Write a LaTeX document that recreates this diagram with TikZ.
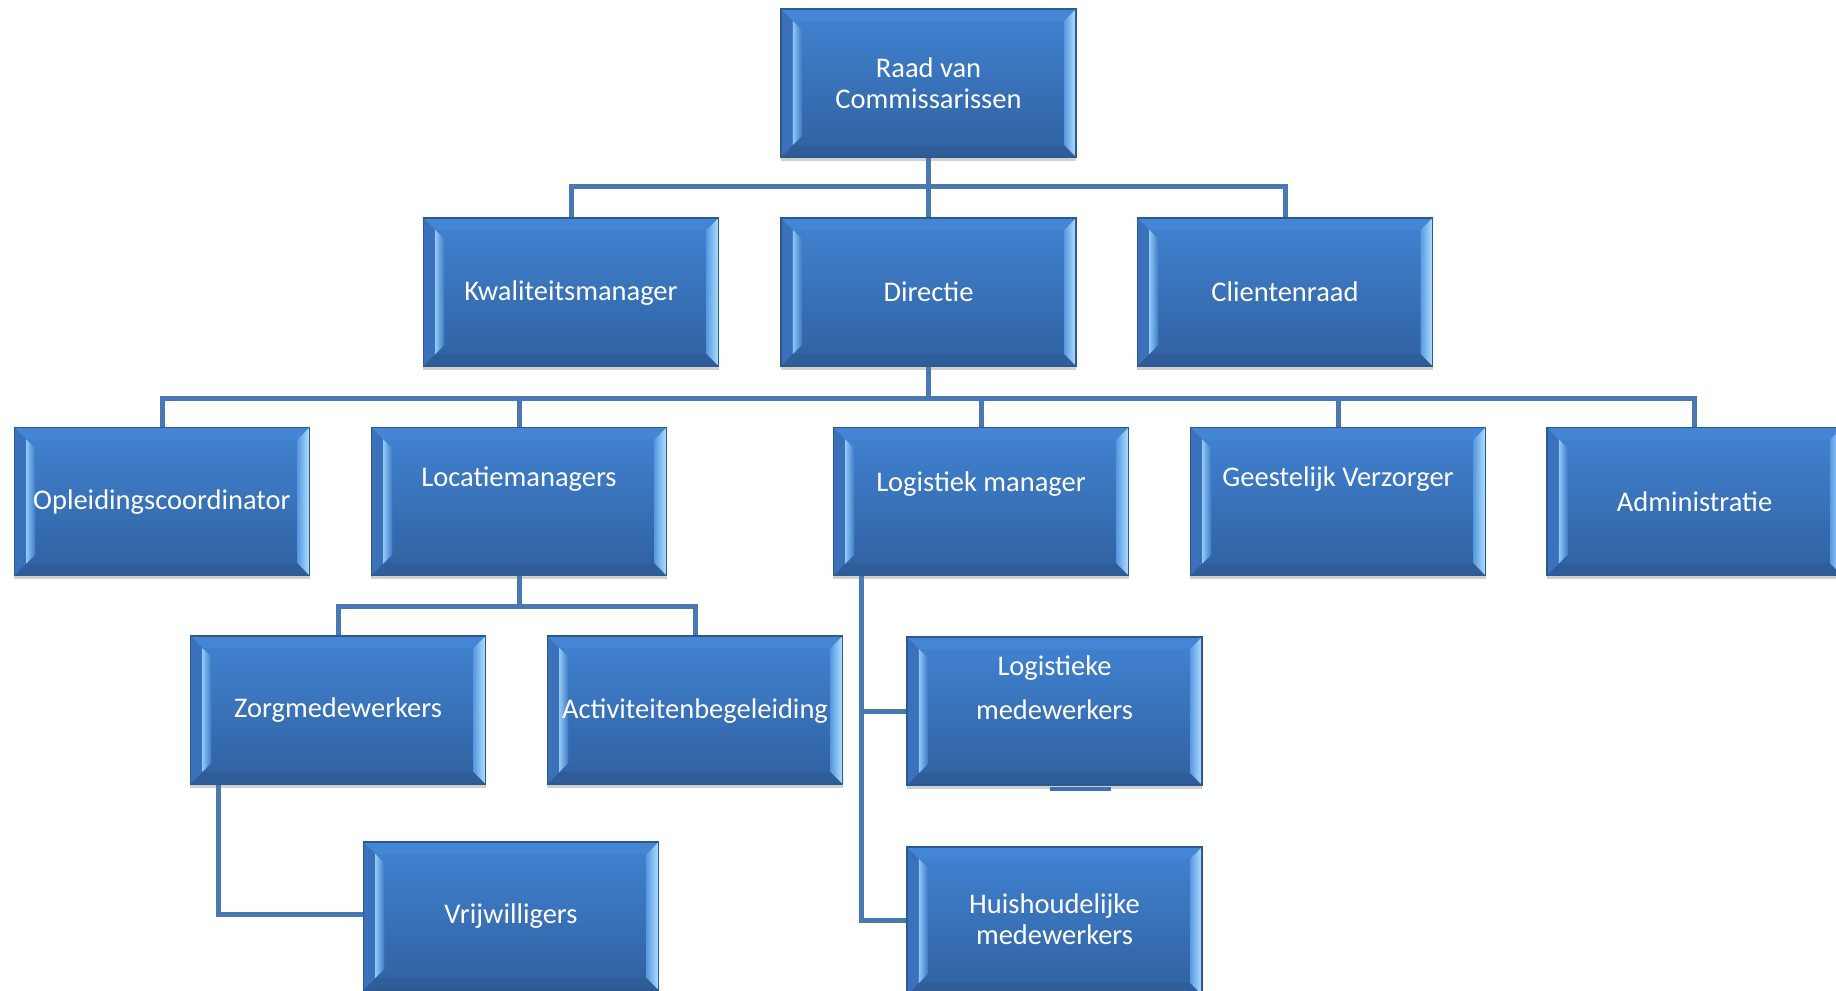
\documentclass[tikz,border=0pt]{standalone}
\usepackage{fontspec}
\setmainfont{Carlito}
\usetikzlibrary{shadows}
\definecolor{facetop}{HTML}{4183D3}
\definecolor{facebot}{HTML}{30619F}
\definecolor{boxedge}{HTML}{2C5A8F}
\definecolor{bevLa}{HTML}{3A71BA}
\definecolor{bevLb}{HTML}{8EC7F7}
\definecolor{bevRa}{HTML}{5A9AE2}
\definecolor{bevRb}{HTML}{B2E2FF}
\definecolor{bevT}{HTML}{4485D5}
\definecolor{bevB}{HTML}{2E5D9A}
\definecolor{linecol}{HTML}{4A78B2}
\def\bv{0.12cm}
\begin{document}
\begin{tikzpicture}[x=0.01cm, y=-0.01cm,
  box/.style={rectangle, minimum width=2.95cm, minimum height=1.48cm, inner sep=0pt,
    draw=boxedge, line width=0.5pt, top color=facetop, bottom color=facebot,
    drop shadow={shadow xshift=0pt, shadow yshift=-0.035cm, opacity=0.18, fill=black},
    path picture={
      \fill[bevT] (path picture bounding box.north west) -- (path picture bounding box.north east)
        -- ([shift={(-\bv,-\bv)}]path picture bounding box.north east)
        -- ([shift={(\bv,-\bv)}]path picture bounding box.north west) -- cycle;
      \fill[bevB] (path picture bounding box.south west) -- (path picture bounding box.south east)
        -- ([shift={(-\bv,\bv)}]path picture bounding box.south east)
        -- ([shift={(\bv,\bv)}]path picture bounding box.south west) -- cycle;
      \fill[bevLa] (path picture bounding box.south west)
        -- (path picture bounding box.north west)
        -- ([shift={(\bv,-\bv)}]path picture bounding box.north west)
        -- ([shift={(\bv,\bv)}]path picture bounding box.south west) -- cycle;
      \shade[left color=bevLb, right color=facetop!70!facebot]
        ([shift={(\bv,-\bv)}]path picture bounding box.north west)
        -- ([shift={(0.21cm,-0.21cm)}]path picture bounding box.north west)
        -- ([shift={(0.21cm,0.21cm)}]path picture bounding box.south west)
        -- ([shift={(\bv,\bv)}]path picture bounding box.south west) -- cycle;
      \shade[left color=bevRa, right color=bevRb] (path picture bounding box.south east)
        -- (path picture bounding box.north east)
        -- ([shift={(-\bv,-\bv)}]path picture bounding box.north east)
        -- ([shift={(-\bv,\bv)}]path picture bounding box.south east) -- cycle;
    }},
  txt/.style={text=white, font=\fontsize{8.1}{8.7}\selectfont, align=center, inner sep=0pt},
  conn/.style={draw=linecol, line width=0.05cm}]
\clip (0,0) rectangle (1836,991);
\fill[white] (0,0) rectangle (1836,991);
% boxes
\node[box] (raad) at (928.5,83) {};
\node[box] (kwal) at (571,292) {};
\node[box] (dir) at (928.5,292) {};
\node[box] (client) at (1285,292) {};
\node[box] (opl) at (162,501.5) {};
\node[box] (loc) at (519,501.5) {};
\node[box] (logm) at (981,501.5) {};
\node[box] (geest) at (1338,501.5) {};
\node[box] (admin) at (1694.5,501.5) {};
\node[box] (zorg) at (338,710) {};
\node[box] (act) at (695,710) {};
\node[box] (logmw) at (1054.5,711) {};
\node[box] (vrij) at (511,916) {};
\node[box] (huis) at (1054.5,921) {};
% texts
\node[txt] (raadT) at (raad.center) {Raad van\\Commissarissen};
\node[txt] (kwalT) at ([yshift=-0.01cm]kwal.center) {Kwaliteitsmanager};
\node[txt] (dirT) at (dir.center) {Directie};
\node[txt] (clientT) at (client.center) {Clientenraad};
\node[txt] (oplT) at ([yshift=-0.01cm]opl.center) {Opleidingscoordinator};
\node[txt] (locT) at ([yshift=0.22cm]loc.center) {Locatiemanagers};
\node[txt] (logmT) at ([yshift=0.17cm]logm.center) {Logistiek manager};
\node[txt] (geestT) at ([yshift=0.22cm]geest.center) {Geestelijk Verzorger};
\node[txt] (adminT) at (admin.center) {Administratie};
\node[txt] (zorgT) at (zorg.center) {Zorgmedewerkers};
\node[txt] (actT) at ([yshift=-0.01cm]act.center) {Activiteitenbegeleiding};
\node[txt] (logmwT) at ([yshift=0.23cm]logmw.center) {Logistieke\\[3.8pt]medewerkers};
\node[txt] (vrijT) at (vrij.center) {Vrijwilligers};
\node[txt] (huisT) at ([yshift=0.02cm]huis.center) {Huishoudelijke\\medewerkers};
% connectors
\coordinate (j1) at ([yshift=-0.29cm]raad.south);
\draw[conn] (raad.south) -- (dir.north);
\draw[conn] (kwal.north) |- (j1) -| (client.north);
\coordinate (j2) at ([yshift=-0.32cm]dir.south);
\draw[conn] (dir.south) -- (j2);
\draw[conn] (opl.north) |- (j2) -| (admin.north);
\draw[conn] (loc.north) -- (loc.north |- j2);
\draw[conn] (logm.north) -- (logm.north |- j2);
\draw[conn] (geest.north) -- (geest.north |- j2);
\coordinate (j3) at ([yshift=-0.30cm]loc.south);
\draw[conn] (loc.south) -- (j3);
\draw[conn] (zorg.north) |- (j3) -| (act.north);
\coordinate (j4) at ([xshift=0.29cm]logm.south west);
\draw[conn] (j4) |- (logmw.west);
\draw[conn] (j4) |- ([yshift=0.01cm]huis.west);
\coordinate (j5) at ([xshift=0.29cm]zorg.south west);
\draw[conn] (j5) |- ([yshift=0.02cm]vrij.west);
\draw[draw=linecol!90!blue, line width=0.033cm] ([xshift=-0.045cm,yshift=-0.03cm]logmw.south) -- ([xshift=0.565cm,yshift=-0.03cm]logmw.south);
\end{tikzpicture}
\end{document}
